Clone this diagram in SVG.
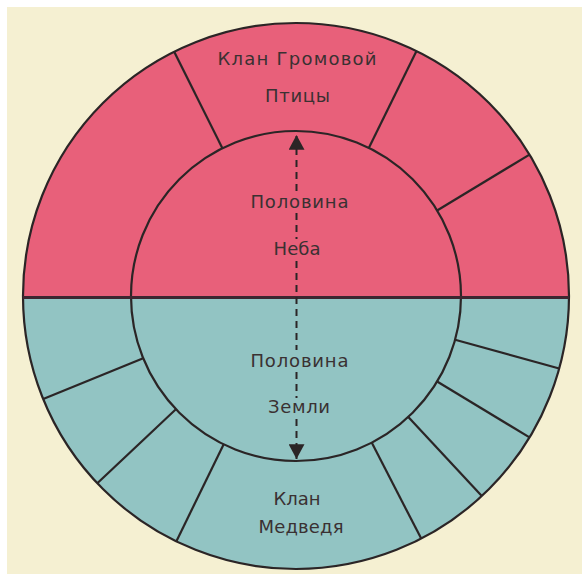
<svg xmlns="http://www.w3.org/2000/svg" width="582" height="576" viewBox="0 0 582 576">
  <style>
    .ring { fill: none; stroke: #2b2526; stroke-width: 2.2; }
    .seg { stroke: #2b2526; stroke-width: 2.2; stroke-linecap: butt; }
    .lbl { font-family: "DejaVu Sans", "Liberation Sans", sans-serif; font-size: 18px; fill: #3a3132; text-anchor: middle; }
    .dash { fill: none; stroke: #2b2526; stroke-width: 2; stroke-dasharray: 7 5; }
  </style>
  <defs>
    <clipPath id="disc">
      <circle cx="296" cy="296" r="273"/>
    </clipPath>
    <marker id="head" markerUnits="userSpaceOnUse" markerWidth="16" markerHeight="16" refX="13" refY="7" orient="auto" viewBox="0 0 14 14">
      <path d="M0,0 L13,7 L0,14 Z" fill="#2b2526"/>
    </marker>
  </defs>

  <g id="background">
    <rect x="0" y="0" width="582" height="576" fill="#ffffff"/>
    <rect x="7" y="7" width="575" height="567" fill="#f5f0d2"/>
  </g>

  <g id="sky-half">
    <rect x="0" y="0" width="582" height="297" fill="#e8607a" clip-path="url(#disc)"/>
  </g>
  <g id="earth-half">
    <rect x="0" y="297" width="582" height="279" fill="#92c4c3" clip-path="url(#disc)"/>
  </g>

  <g id="clan-segments">
    <line class="seg" x1="222.4" y1="148.3" x2="174.2" y2="51.7"/>
    <line class="seg" x1="368.8" y1="147.9" x2="416.5" y2="51"/>
    <line class="seg" x1="437.1" y1="210.5" x2="529.5" y2="154.6"/>
    <line class="seg" x1="455.1" y1="339.8" x2="559.2" y2="368.5"/>
    <line class="seg" x1="437.1" y1="381.5" x2="529.5" y2="437.4"/>
    <line class="seg" x1="408.3" y1="416.9" x2="481.8" y2="496"/>
    <line class="seg" x1="371.7" y1="442.6" x2="421.2" y2="538.6"/>
    <line class="seg" x1="223.7" y1="444.3" x2="176.3" y2="541.4"/>
    <line class="seg" x1="175.9" y1="409.2" x2="97.3" y2="483.2"/>
    <line class="seg" x1="143.2" y1="358.3" x2="43.2" y2="399.1"/>
  </g>

  <g id="moiety-circle">
    <circle class="ring" cx="296" cy="296" r="165"/>
  </g>
  <g id="outer-circle">
    <circle class="ring" cx="296" cy="296" r="273"/>
  </g>
  <g id="divider">
    <line x1="23" y1="297.5" x2="569" y2="297.5" stroke="#3d2630" stroke-width="2.8"/>
  </g>

  <g id="connectors">
    <line class="dash" x1="296.5" y1="191" x2="296.5" y2="135" marker-end="url(#head)"/>
    <line class="dash" x1="296.5" y1="213" x2="296.5" y2="239"/>
    <line class="dash" x1="296.5" y1="261" x2="296.5" y2="350"/>
    <line class="dash" x1="296.5" y1="372" x2="296.5" y2="398"/>
    <line class="dash" x1="296.5" y1="419" x2="296.5" y2="459" marker-end="url(#head)"/>
  </g>

  <g id="clan-thunderbird">
    <text class="lbl" x="297" y="65" textLength="159" lengthAdjust="spacing">Клан Громовой</text>
    <text class="lbl" x="297.5" y="102" textLength="65" lengthAdjust="spacing">Птицы</text>
  </g>
  <g id="moiety-sky">
    <text class="lbl" x="299.5" y="208" textLength="98" lengthAdjust="spacing">Половина</text>
    <text class="lbl" x="297" y="255" textLength="47" lengthAdjust="spacing">Неба</text>
  </g>
  <g id="moiety-earth">
    <text class="lbl" x="299.5" y="367" textLength="98" lengthAdjust="spacing">Половина</text>
    <text class="lbl" x="299" y="413" textLength="62" lengthAdjust="spacing">Земли</text>
  </g>
  <g id="clan-bear">
    <text class="lbl" x="297" y="505" textLength="47" lengthAdjust="spacing">Клан</text>
    <text class="lbl" x="301" y="533" textLength="85" lengthAdjust="spacing">Медведя</text>
  </g>
</svg>
